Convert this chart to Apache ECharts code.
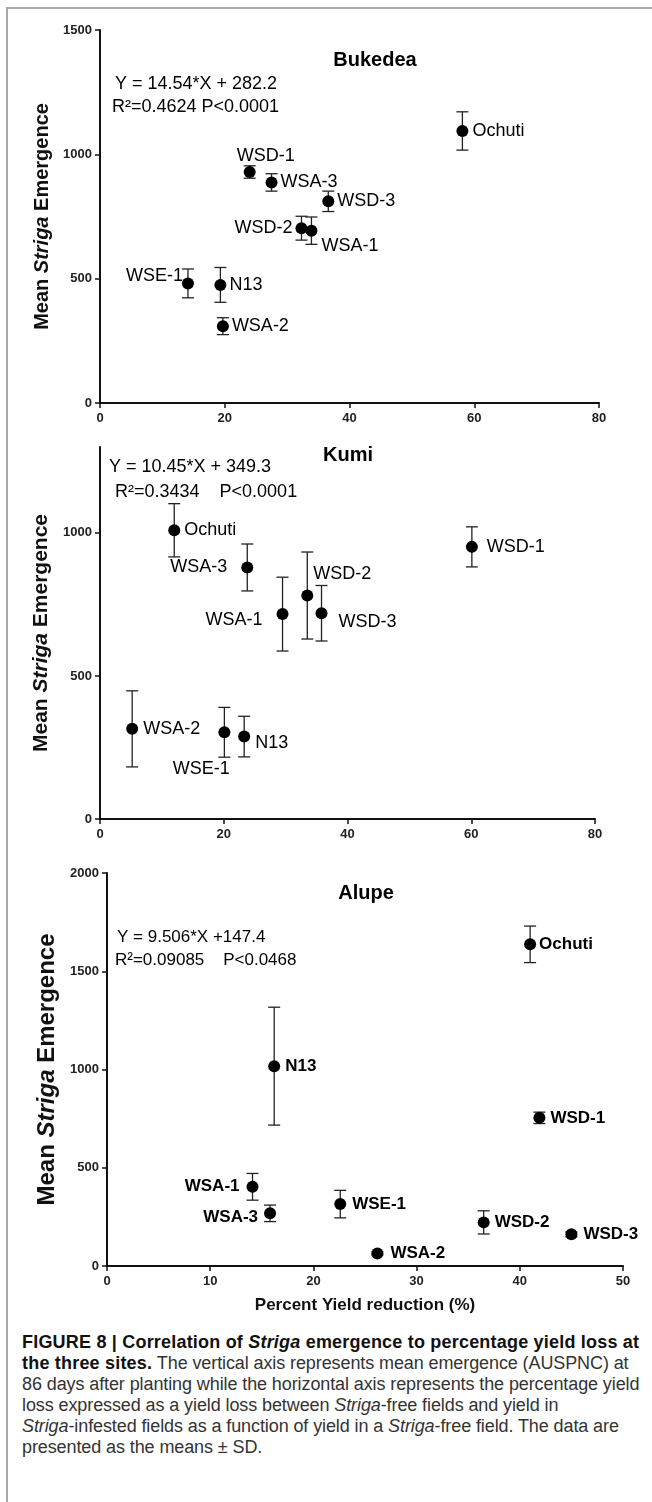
<!DOCTYPE html>
<html>
<head>
<meta charset="utf-8">
<script src="https://cdn.jsdelivr.net/npm/echarts@6/dist/echarts.min.js"></script>
<style>
html, body { margin: 0; padding: 0; background: #fff; overflow: hidden; }
#frame { position: absolute; left: 6px; top: 7px; width: 700px; height: 1520px;
  border-left: 2px solid #a8a8a8; border-top: 2px solid #a8a8a8; }
#main { position: absolute; left: 0; top: 0; width: 652px; height: 1325px; }
#caption { position: absolute; left: 22px; top: 1332px; white-space: nowrap;
  font: 18px/21px "Liberation Sans", Arial, sans-serif; color: #333; letter-spacing: -0.1px; }
#caption b { color: #111; letter-spacing: 0.2px; }
</style>
</head>
<body>
<div id="frame"></div>
<div id="main"></div>
<div id="caption">
<b>FIGURE 8 | Correlation of <i>Striga</i> emergence to percentage yield loss at</b><br>
<b>the three sites.</b> The vertical axis represents mean emergence (AUSPNC) at<br>
86 days after planting while the horizontal axis represents the percentage yield<br>
loss expressed as a yield loss between <i>Striga</i>-free fields and yield in<br>
<i>Striga</i>-infested fields as a function of yield in a <i>Striga</i>-free field. The data are<br>
presented as the means &plusmn; SD.
</div>
<script>
// values (x = % yield reduction, y = mean emergence, sd = error bar)
const bukedeaNames = ['Ochuti', 'WSD-1', 'WSA-3', 'WSD-3', 'WSD-2', 'WSA-1', 'WSE-1', 'N13', 'WSA-2'];
const bukedeaX = [58.1, 24.0, 27.5, 36.6, 32.3, 33.9, 14.1, 19.3, 19.7];
const bukedeaY = [1094, 929, 887, 811, 703, 693, 481, 475, 309];
const bukedeaSD = [77, 25, 35, 41, 48, 55, 58, 70, 34];

const kumiNames = ['Ochuti', 'WSD-1', 'WSA-3', 'WSD-2', 'WSA-1', 'WSD-3', 'WSA-2', 'WSE-1', 'N13'];
const kumiX = [12.0, 60.1, 23.8, 33.5, 29.5, 35.8, 5.2, 20.1, 23.3];
const kumiY = [1009, 951, 879, 781, 716, 719, 315, 303, 288];
const kumiSD = [93, 70, 82, 152, 129, 97, 133, 87, 71];

const alupeNames = ['Ochuti', 'N13', 'WSD-1', 'WSA-1', 'WSA-3', 'WSE-1', 'WSD-2', 'WSD-3', 'WSA-2'];
const alupeX = [41.0, 16.2, 41.9, 14.1, 15.8, 22.6, 36.5, 45.0, 26.2];
const alupeY = [1637, 1017, 754, 403, 268, 315, 222, 161, 64];
const alupeSD = [93, 300, 29, 68, 42, 70, 59, 12, 8];

const titles = ['Bukedea', 'Kumi', 'Alupe'];
const eqLine1 = ['Y = 14.54*X + 282.2', 'Y = 10.45*X + 349.3', 'Y = 9.506*X +147.4'];
const eqLine2 = ['R\u00b2=0.4624 P<0.0001', 'R\u00b2=0.3434    P<0.0001', 'R\u00b2=0.09085    P<0.0468'];
const xMax = [80, 80, 50];
const xStep = [20, 20, 10];
const yMax = [1500, 1300, 2000];
const yTicks = [[0, 500, 1000, 1500], [0, 500, 1000], [0, 500, 1000, 1500, 2000]];

// label placement for each point: [align, dx, dy]
const bukedeaLab = [['left', 10, 0], ['center', 16, -16], ['left', 9, 0], ['left', 9, 0], ['right', -9, 0],
  ['left', 10, 15], ['right', -5, -7], ['left', 9, 0], ['left', 9, 0]];
const kumiLab = [['left', 10, 0], ['left', 15, 0], ['right', -20, 0], ['left', 6, -21], ['right', -20, 6],
  ['left', 17, 9], ['left', 11, 0], ['center', -23, 37], ['left', 11, 6]];
const alupeLab = [['left', 9, 0], ['left', 11, 0], ['left', 11, 0], ['right', -13, 0], ['right', -12, 4],
  ['left', 12, 0], ['left', 11, 0], ['left', 12, 0], ['left', 13, 0]];

const font = '"Liberation Sans", Arial, sans-serif';
const panels = [
  { names: bukedeaNames, x: bukedeaX, y: bukedeaY, sd: bukedeaSD, lab: bukedeaLab, bold: false,
    grid: { left: 100, top: 30, width: 499, height: 373 }, title: [375, 60], eq: [[115, 84], [112, 107]],
    eqSize: 18, nameSize: 20, nameGap: 44 },
  { names: kumiNames, x: kumiX, y: kumiY, sd: kumiSD, lab: kumiLab, bold: false,
    grid: { left: 100, top: 447, width: 495, height: 372 }, title: [348, 455], eq: [[109, 467], [115, 492]],
    eqSize: 18, nameSize: 21, nameGap: 47 },
  { names: alupeNames, x: alupeX, y: alupeY, sd: alupeSD, lab: alupeLab, bold: true,
    grid: { left: 107, top: 873, width: 516, height: 393 }, title: [366, 893], eq: [[117, 937], [115, 960]],
    eqSize: 17, nameSize: 24, nameGap: 47 }
];

const axisCommon = {
  axisLine: { lineStyle: { color: '#111', width: 2 } },
  axisTick: { length: 5, lineStyle: { color: '#111', width: 1.5 } },
  splitLine: { show: false }
};

const grids = [], xAxes = [], yAxes = [], series = [], graphics = [];
panels.forEach((p, i) => {
  grids.push(p.grid);
  xAxes.push(Object.assign({}, axisCommon, {
    type: 'value', gridIndex: i, min: 0, max: xMax[i], interval: xStep[i],
    axisLabel: { color: '#222', fontWeight: 'bold', fontSize: 13, margin: 9, fontFamily: font },
    name: i === 2 ? 'Percent Yield reduction (%)' : '',
    nameLocation: 'middle', nameGap: 31,
    nameTextStyle: { color: '#111', fontWeight: 'bold', fontSize: 17, fontFamily: font }
  }));
  yAxes.push(Object.assign({}, axisCommon, {
    type: 'value', gridIndex: i, min: 0, max: yMax[i], interval: 500,
    axisTick: { length: 5, lineStyle: { color: '#111', width: 1.5 }, customValues: yTicks[i] },
    axisLabel: { color: '#222', fontWeight: 'bold', fontSize: 13, margin: 8, fontFamily: font,
      customValues: yTicks[i], formatter: v => String(v) },
    name: '{b|Mean }{i|Striga}{b| Emergence}',
    nameLocation: 'middle', nameRotate: 90, nameGap: p.nameGap,
    nameTextStyle: { rich: {
      b: { fontWeight: 'bold', fontSize: p.nameSize, color: '#111', fontFamily: font },
      i: { fontWeight: 'bold', fontStyle: 'italic', fontSize: p.nameSize, color: '#111', fontFamily: font }
    } }
  }));

  series.push({
    type: 'custom', xAxisIndex: i, yAxisIndex: i, z: 2,
    data: p.x.map((v, k) => [v, p.y[k], p.sd[k]]),
    encode: { x: 0, y: 1 },
    renderItem: (params, api) => {
      const x = api.value(0), y = api.value(1), sd = api.value(2);
      const top = api.coord([x, y + sd]);
      const bot = api.coord([x, y - sd]);
      const c = 6;
      const st = { stroke: '#222', lineWidth: 1.3 };
      return { type: 'group', children: [
        { type: 'line', shape: { x1: top[0], y1: top[1], x2: bot[0], y2: bot[1] }, style: st },
        { type: 'line', shape: { x1: top[0] - c, y1: top[1], x2: top[0] + c, y2: top[1] }, style: st },
        { type: 'line', shape: { x1: bot[0] - c, y1: bot[1], x2: bot[0] + c, y2: bot[1] }, style: st }
      ] };
    }
  });

  series.push({
    type: 'scatter', xAxisIndex: i, yAxisIndex: i, z: 3,
    symbol: 'circle', symbolSize: 12,
    itemStyle: { color: '#000', opacity: 1 },
    data: p.x.map((v, k) => ({
      name: p.names[k], value: [v, p.y[k]],
      label: { show: true, position: 'inside', formatter: '{b}',
        align: p.lab[k][0], verticalAlign: 'middle', offset: [p.lab[k][1], p.lab[k][2]],
        color: '#000', fontSize: p.bold ? 17 : 18, fontWeight: p.bold ? 'bold' : 'normal', fontFamily: font }
    }))
  });

  graphics.push({ type: 'text', x: p.title[0], y: p.title[1],
    style: { text: titles[i], fill: '#000', font: 'bold 20px ' + font, textAlign: 'center', textVerticalAlign: 'middle' } });
  graphics.push({ type: 'text', x: p.eq[0][0], y: p.eq[0][1],
    style: { text: eqLine1[i], fill: '#000', font: p.eqSize + 'px ' + font, textAlign: 'left', textVerticalAlign: 'middle' } });
  graphics.push({ type: 'text', x: p.eq[1][0], y: p.eq[1][1],
    style: { text: eqLine2[i], fill: '#000', font: p.eqSize + 'px ' + font, textAlign: 'left', textVerticalAlign: 'middle' } });
});

const myChart = echarts.init(document.getElementById('main'));
myChart.setOption({
  animation: false,
  textStyle: { fontFamily: font },
  grid: grids,
  xAxis: xAxes,
  yAxis: yAxes,
  series: series,
  graphic: graphics
});
</script>
</body>
</html>
